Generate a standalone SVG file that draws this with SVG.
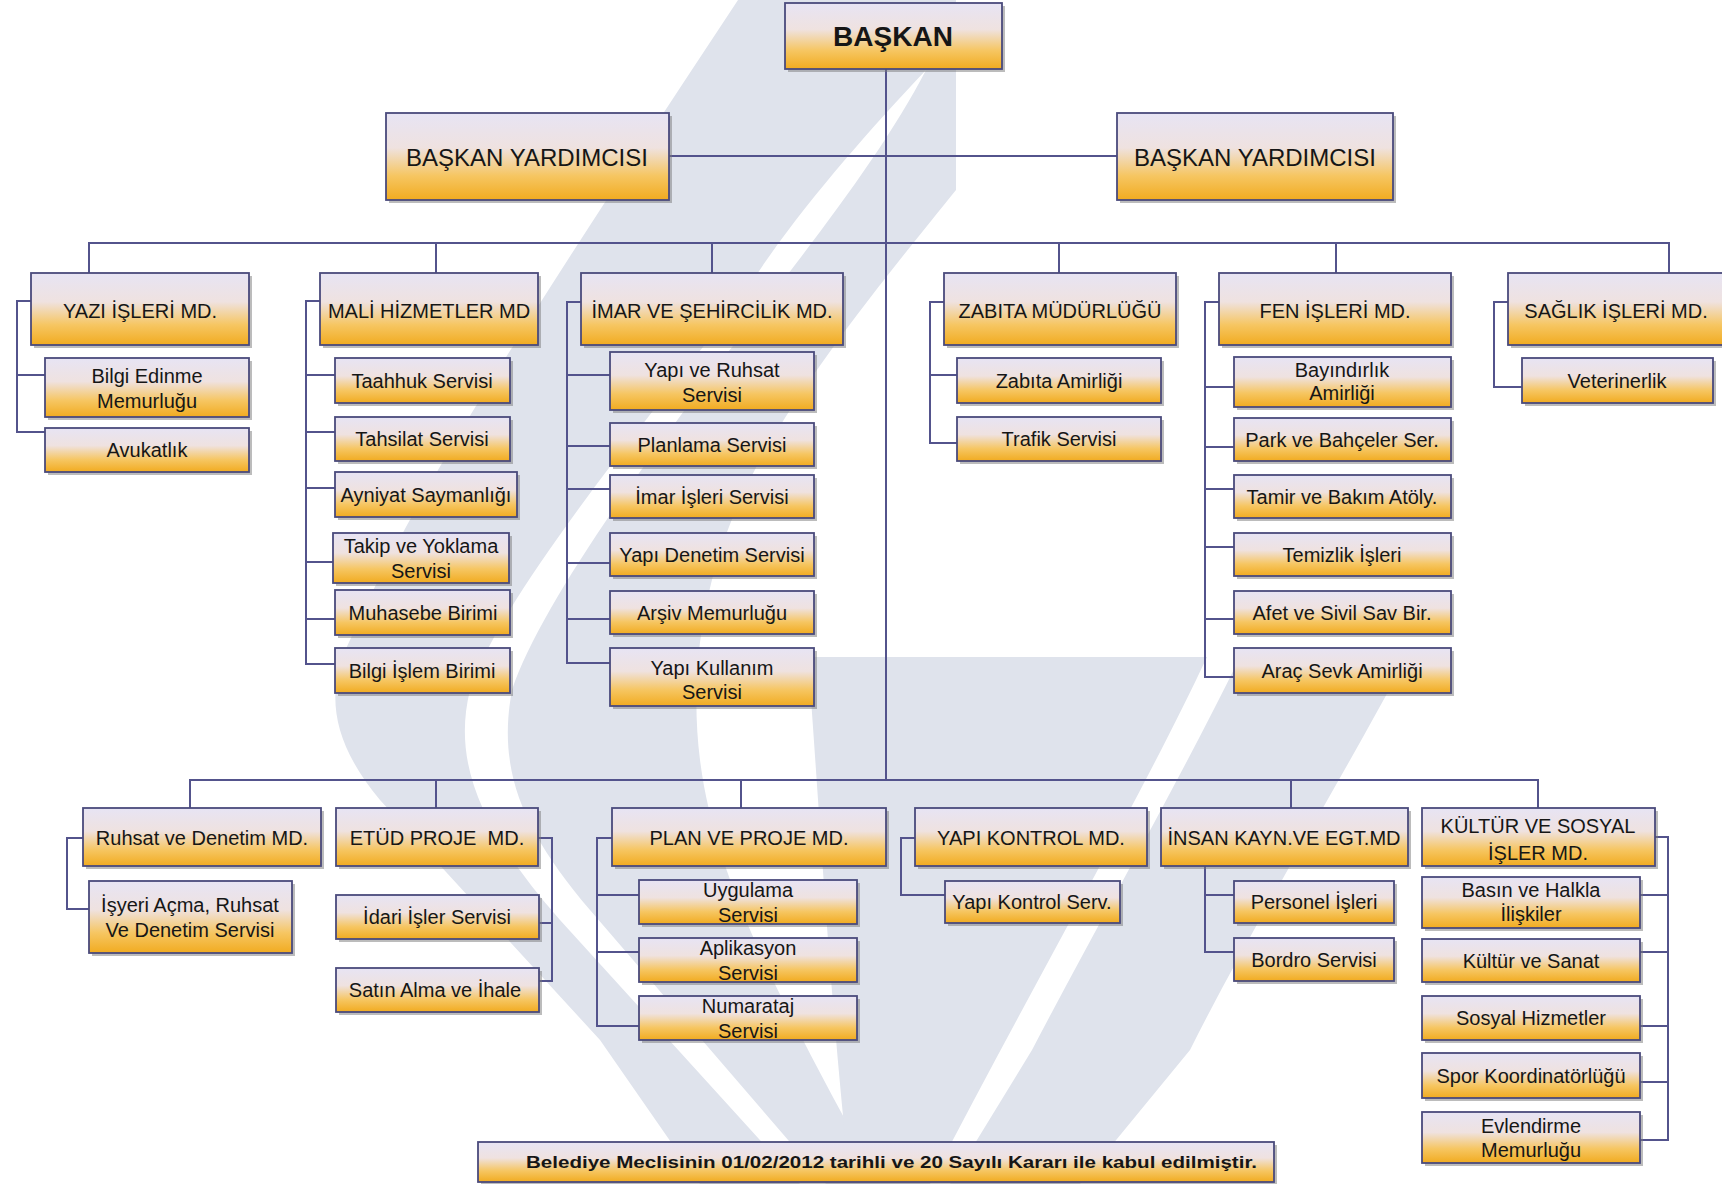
<svg xmlns="http://www.w3.org/2000/svg" width="1722" height="1184" viewBox="0 0 1722 1184">
<defs>
<linearGradient id="g" x1="0" y1="0" x2="0" y2="1">
<stop offset="0" stop-color="#e7e4f4"/>
<stop offset="0.4" stop-color="#efe2e0"/>
<stop offset="0.72" stop-color="#f6c662"/>
<stop offset="1" stop-color="#f1ab20"/>
</linearGradient>
<style>
.b{fill:url(#g);stroke:#4a4a7c;stroke-width:1.8}
.s{fill:#7a7a7a;opacity:.5}
.t{font-family:'Liberation Sans',Arial,sans-serif;font-size:20px;fill:#161616;text-anchor:middle}
.tb{font-weight:bold}
.c{fill:none;stroke:#53538c;stroke-width:2}
.w{fill:#dfe3ec}
</style>
</defs>
<rect width="1722" height="1184" fill="#ffffff"/>
<g id="watermark">
<path class="w" d="M738,0 L956,0 L956,190 C900,260 790,390 740,500 C700,590 690,680 700,760 C715,880 780,1000 880,1184 L700,1184 L600,1040 L380,800 C330,740 325,690 350,640 C420,480 560,270 738,0 Z"/>
<path fill="#ffffff" d="M926,70 C860,140 790,220 740,300 C630,440 500,600 470,690 C450,770 490,840 560,920 L800,1184 L826,1184 L590,910 C522,830 497,770 512,690 C542,600 660,440 768,300 C830,220 890,140 926,70 Z"/>
<path class="w" d="M808,657 L1207,657 C1140,800 1030,990 930,1184 L850,1184 C830,1000 820,820 808,657 Z"/>
<path class="w" d="M1240,657 L1407,657 C1330,800 1250,930 1190,1050 L1080,1184 L950,1184 L1032,1050 C1100,920 1180,780 1240,657 Z"/>
</g>
<g id="connectors" class="c">
<path d="M669,156H1117"/>
<path d="M886,69V780"/>
<path d="M89,273V243H1669V273"/>
<path d="M436,243V273M712,243V273M1059,243V273M1336,243V273"/>
<path d="M190,808V780H1538V808"/>
<path d="M436,780V808M741,780V808M1291,780V808"/>
<path d="M31,301H17V432H45M17,375H45"/>
<path d="M320,301H306V664H335M306,375H335M306,432H335M306,488H335M306,562H333M306,619H335"/>
<path d="M581,302H567V663H610M567,375H610M567,446H610M567,489H610M567,563H610M567,619H610"/>
<path d="M944,302H930V443H957M930,375H957"/>
<path d="M1219,302H1205V677H1234M1205,387H1234M1205,447H1234M1205,489H1234M1205,547H1234M1205,619H1234"/>
<path d="M1508,302H1494V387H1522"/>
<path d="M83,838H67V909H89"/>
<path d="M538,838H552V981H539M552,923H539"/>
<path d="M612,838H597V1026H639M597,895H639M597,952H639"/>
<path d="M915,838H901V895H945"/>
<path d="M1205,866V952H1234M1205,895H1234"/>
<path d="M1655,837H1668V1140H1640M1668,895H1640M1668,952H1640M1668,1026H1640M1668,1082H1640"/>
</g>
<g id="baskan"><rect class="s" x="788" y="6" width="217" height="66"/><rect class="b" x="785" y="3" width="217" height="66"/><text class="t tb" x="893" y="46" style="font-size:28px">BAŞKAN</text></g>
<g id="vp1"><rect class="s" x="389" y="116" width="283" height="87"/><rect class="b" x="386" y="113" width="283" height="87"/><text class="t" x="527" y="166" style="font-size:24px">BAŞKAN YARDIMCISI</text></g>
<g id="vp2"><rect class="s" x="1120" y="116" width="276" height="87"/><rect class="b" x="1117" y="113" width="276" height="87"/><text class="t" x="1255" y="166" style="font-size:24px">BAŞKAN YARDIMCISI</text></g>
<g id="yazi"><rect class="s" x="34" y="276" width="218" height="72"/><rect class="b" x="31" y="273" width="218" height="72"/><text class="t" x="140" y="318">YAZI İŞLERİ MD.</text></g>
<g id="mali"><rect class="s" x="323" y="276" width="218" height="72"/><rect class="b" x="320" y="273" width="218" height="72"/><text class="t" x="429" y="318">MALİ HİZMETLER MD</text></g>
<g id="imar"><rect class="s" x="584" y="276" width="262" height="72"/><rect class="b" x="581" y="273" width="262" height="72"/><text class="t" x="712" y="318">İMAR VE ŞEHİRCİLİK MD.</text></g>
<g id="zabita"><rect class="s" x="947" y="276" width="232" height="72"/><rect class="b" x="944" y="273" width="232" height="72"/><text class="t" x="1060" y="318">ZABITA MÜDÜRLÜĞÜ</text></g>
<g id="fen"><rect class="s" x="1222" y="276" width="232" height="72"/><rect class="b" x="1219" y="273" width="232" height="72"/><text class="t" x="1335" y="318">FEN İŞLERİ MD.</text></g>
<g id="saglik"><rect class="s" x="1511" y="276" width="216" height="72"/><rect class="b" x="1508" y="273" width="216" height="72"/><text class="t" x="1616" y="318">SAĞLIK İŞLERİ MD.</text></g>
<g id="bilgi-edinme"><rect class="s" x="48" y="361" width="204" height="59"/><rect class="b" x="45" y="358" width="204" height="59"/><text class="t"><tspan x="147" y="383">Bilgi Edinme</tspan><tspan x="147" y="408">Memurluğu</tspan></text></g>
<g id="avukatlik"><rect class="s" x="48" y="431" width="204" height="44"/><rect class="b" x="45" y="428" width="204" height="44"/><text class="t" x="147" y="457">Avukatlık</text></g>
<g id="taahhuk"><rect class="s" x="338" y="361" width="175" height="45"/><rect class="b" x="335" y="358" width="175" height="45"/><text class="t" x="422" y="388">Taahhuk Servisi</text></g>
<g id="tahsilat"><rect class="s" x="338" y="420" width="175" height="44"/><rect class="b" x="335" y="417" width="175" height="44"/><text class="t" x="422" y="446">Tahsilat Servisi</text></g>
<g id="ayniyat"><rect class="s" x="338" y="475" width="182" height="45"/><rect class="b" x="335" y="472" width="182" height="45"/><text class="t" x="426" y="502">Ayniyat Saymanlığı</text></g>
<g id="takip"><rect class="s" x="336" y="536" width="176" height="50"/><rect class="b" x="333" y="533" width="176" height="50"/><text class="t"><tspan x="421" y="553">Takip ve Yoklama</tspan><tspan x="421" y="578">Servisi</tspan></text></g>
<g id="muhasebe"><rect class="s" x="338" y="593" width="175" height="45"/><rect class="b" x="335" y="590" width="175" height="45"/><text class="t" x="423" y="620">Muhasebe Birimi</text></g>
<g id="bilgi-islem"><rect class="s" x="338" y="651" width="175" height="45"/><rect class="b" x="335" y="648" width="175" height="45"/><text class="t" x="422" y="678">Bilgi İşlem Birimi</text></g>
<g id="yapi-ruhsat"><rect class="s" x="613" y="355" width="204" height="58"/><rect class="b" x="610" y="352" width="204" height="58"/><text class="t"><tspan x="712" y="377">Yapı ve Ruhsat</tspan><tspan x="712" y="402">Servisi</tspan></text></g>
<g id="planlama"><rect class="s" x="613" y="426" width="204" height="43"/><rect class="b" x="610" y="423" width="204" height="43"/><text class="t" x="712" y="452">Planlama Servisi</text></g>
<g id="imar-isleri"><rect class="s" x="613" y="478" width="204" height="43"/><rect class="b" x="610" y="475" width="204" height="43"/><text class="t" x="712" y="504">İmar İşleri Servisi</text></g>
<g id="yapi-denetim"><rect class="s" x="613" y="536" width="204" height="43"/><rect class="b" x="610" y="533" width="204" height="43"/><text class="t" x="712" y="562">Yapı Denetim Servisi</text></g>
<g id="arsiv"><rect class="s" x="613" y="594" width="204" height="43"/><rect class="b" x="610" y="591" width="204" height="43"/><text class="t" x="712" y="620">Arşiv Memurluğu</text></g>
<g id="yapi-kullanim"><rect class="s" x="613" y="651" width="204" height="58"/><rect class="b" x="610" y="648" width="204" height="58"/><text class="t"><tspan x="712" y="675">Yapı Kullanım</tspan><tspan x="712" y="699">Servisi</tspan></text></g>
<g id="zabita-amirligi"><rect class="s" x="960" y="361" width="204" height="45"/><rect class="b" x="957" y="358" width="204" height="45"/><text class="t" x="1059" y="388">Zabıta Amirliği</text></g>
<g id="trafik"><rect class="s" x="960" y="420" width="204" height="44"/><rect class="b" x="957" y="417" width="204" height="44"/><text class="t" x="1059" y="446">Trafik Servisi</text></g>
<g id="bayindirlik"><rect class="s" x="1237" y="360" width="217" height="50"/><rect class="b" x="1234" y="357" width="217" height="50"/><text class="t"><tspan x="1342" y="377">Bayındırlık</tspan><tspan x="1342" y="400">Amirliği</tspan></text></g>
<g id="park"><rect class="s" x="1237" y="421" width="217" height="43"/><rect class="b" x="1234" y="418" width="217" height="43"/><text class="t" x="1342" y="447">Park ve Bahçeler Ser.</text></g>
<g id="tamir"><rect class="s" x="1237" y="478" width="217" height="43"/><rect class="b" x="1234" y="475" width="217" height="43"/><text class="t" x="1342" y="504">Tamir ve Bakım Atöly.</text></g>
<g id="temizlik"><rect class="s" x="1237" y="536" width="217" height="43"/><rect class="b" x="1234" y="533" width="217" height="43"/><text class="t" x="1342" y="562">Temizlik İşleri</text></g>
<g id="afet"><rect class="s" x="1237" y="594" width="217" height="43"/><rect class="b" x="1234" y="591" width="217" height="43"/><text class="t" x="1342" y="620">Afet ve Sivil Sav Bir.</text></g>
<g id="arac"><rect class="s" x="1237" y="651" width="217" height="45"/><rect class="b" x="1234" y="648" width="217" height="45"/><text class="t" x="1342" y="678">Araç Sevk Amirliği</text></g>
<g id="veterinerlik"><rect class="s" x="1525" y="361" width="191" height="45"/><rect class="b" x="1522" y="358" width="191" height="45"/><text class="t" x="1617" y="388">Veterinerlik</text></g>
<g id="ruhsat-md"><rect class="s" x="86" y="811" width="238" height="58"/><rect class="b" x="83" y="808" width="238" height="58"/><text class="t" x="202" y="845">Ruhsat ve Denetim MD.</text></g>
<g id="etud"><rect class="s" x="339" y="811" width="202" height="58"/><rect class="b" x="336" y="808" width="202" height="58"/><text class="t" x="437" y="845" style="white-space:pre">ETÜD PROJE  MD.</text></g>
<g id="plan"><rect class="s" x="615" y="811" width="274" height="58"/><rect class="b" x="612" y="808" width="274" height="58"/><text class="t" x="749" y="845">PLAN VE PROJE MD.</text></g>
<g id="yapi-kontrol"><rect class="s" x="918" y="811" width="232" height="58"/><rect class="b" x="915" y="808" width="232" height="58"/><text class="t" x="1031" y="845">YAPI KONTROL MD.</text></g>
<g id="insan"><rect class="s" x="1164" y="811" width="247" height="58"/><rect class="b" x="1161" y="808" width="247" height="58"/><text class="t" x="1284" y="845">İNSAN KAYN.VE EGT.MD</text></g>
<g id="kultur"><rect class="s" x="1425" y="811" width="233" height="58"/><rect class="b" x="1422" y="808" width="233" height="58"/><text class="t"><tspan x="1538" y="833">KÜLTÜR VE SOSYAL</tspan><tspan x="1538" y="860">İŞLER MD.</tspan></text></g>
<g id="isyeri"><rect class="s" x="92" y="884" width="203" height="72"/><rect class="b" x="89" y="881" width="203" height="72"/><text class="t"><tspan x="190" y="912">İşyeri Açma, Ruhsat</tspan><tspan x="190" y="937">Ve Denetim Servisi</tspan></text></g>
<g id="idari"><rect class="s" x="339" y="898" width="203" height="44"/><rect class="b" x="336" y="895" width="203" height="44"/><text class="t" x="437" y="924">İdari İşler Servisi</text></g>
<g id="satin"><rect class="s" x="339" y="971" width="203" height="44"/><rect class="b" x="336" y="968" width="203" height="44"/><text class="t" x="435" y="997">Satın Alma ve İhale</text></g>
<g id="uygulama"><rect class="s" x="642" y="883" width="218" height="44"/><rect class="b" x="639" y="880" width="218" height="44"/><text class="t"><tspan x="748" y="897">Uygulama</tspan><tspan x="748" y="922">Servisi</tspan></text></g>
<g id="aplikasyon"><rect class="s" x="642" y="941" width="218" height="44"/><rect class="b" x="639" y="938" width="218" height="44"/><text class="t"><tspan x="748" y="955">Aplikasyon</tspan><tspan x="748" y="980">Servisi</tspan></text></g>
<g id="numarataj"><rect class="s" x="642" y="999" width="218" height="44"/><rect class="b" x="639" y="996" width="218" height="44"/><text class="t"><tspan x="748" y="1013">Numarataj</tspan><tspan x="748" y="1038">Servisi</tspan></text></g>
<g id="yapi-kontrol-serv"><rect class="s" x="948" y="884" width="175" height="42"/><rect class="b" x="945" y="881" width="175" height="42"/><text class="t" x="1032" y="909">Yapı Kontrol Serv.</text></g>
<g id="personel"><rect class="s" x="1237" y="884" width="160" height="42"/><rect class="b" x="1234" y="881" width="160" height="42"/><text class="t" x="1314" y="909">Personel İşleri</text></g>
<g id="bordro"><rect class="s" x="1237" y="941" width="160" height="43"/><rect class="b" x="1234" y="938" width="160" height="43"/><text class="t" x="1314" y="967">Bordro Servisi</text></g>
<g id="basin"><rect class="s" x="1425" y="880" width="218" height="51"/><rect class="b" x="1422" y="877" width="218" height="51"/><text class="t"><tspan x="1531" y="897">Basın ve Halkla</tspan><tspan x="1531" y="921">İlişkiler</tspan></text></g>
<g id="kultur-sanat"><rect class="s" x="1425" y="942" width="218" height="43"/><rect class="b" x="1422" y="939" width="218" height="43"/><text class="t" x="1531" y="968">Kültür ve Sanat</text></g>
<g id="sosyal"><rect class="s" x="1425" y="999" width="218" height="44"/><rect class="b" x="1422" y="996" width="218" height="44"/><text class="t" x="1531" y="1025">Sosyal Hizmetler</text></g>
<g id="spor"><rect class="s" x="1425" y="1056" width="218" height="45"/><rect class="b" x="1422" y="1053" width="218" height="45"/><text class="t" x="1531" y="1083">Spor Koordinatörlüğü</text></g>
<g id="evlendirme"><rect class="s" x="1425" y="1115" width="218" height="51"/><rect class="b" x="1422" y="1112" width="218" height="51"/><text class="t"><tspan x="1531" y="1133">Evlendirme</tspan><tspan x="1531" y="1157">Memurluğu</tspan></text></g>
<g id="footer"><rect class="s" x="481" y="1145" width="796" height="40"/><rect class="b" x="478" y="1142" width="796" height="40"/><text class="t tb" x="526" y="1168" style="font-size:17px;text-anchor:start" textLength="731" lengthAdjust="spacingAndGlyphs">Belediye Meclisinin 01/02/2012 tarihli ve 20 Sayılı Kararı ile kabul edilmiştir.</text></g>
</svg>
